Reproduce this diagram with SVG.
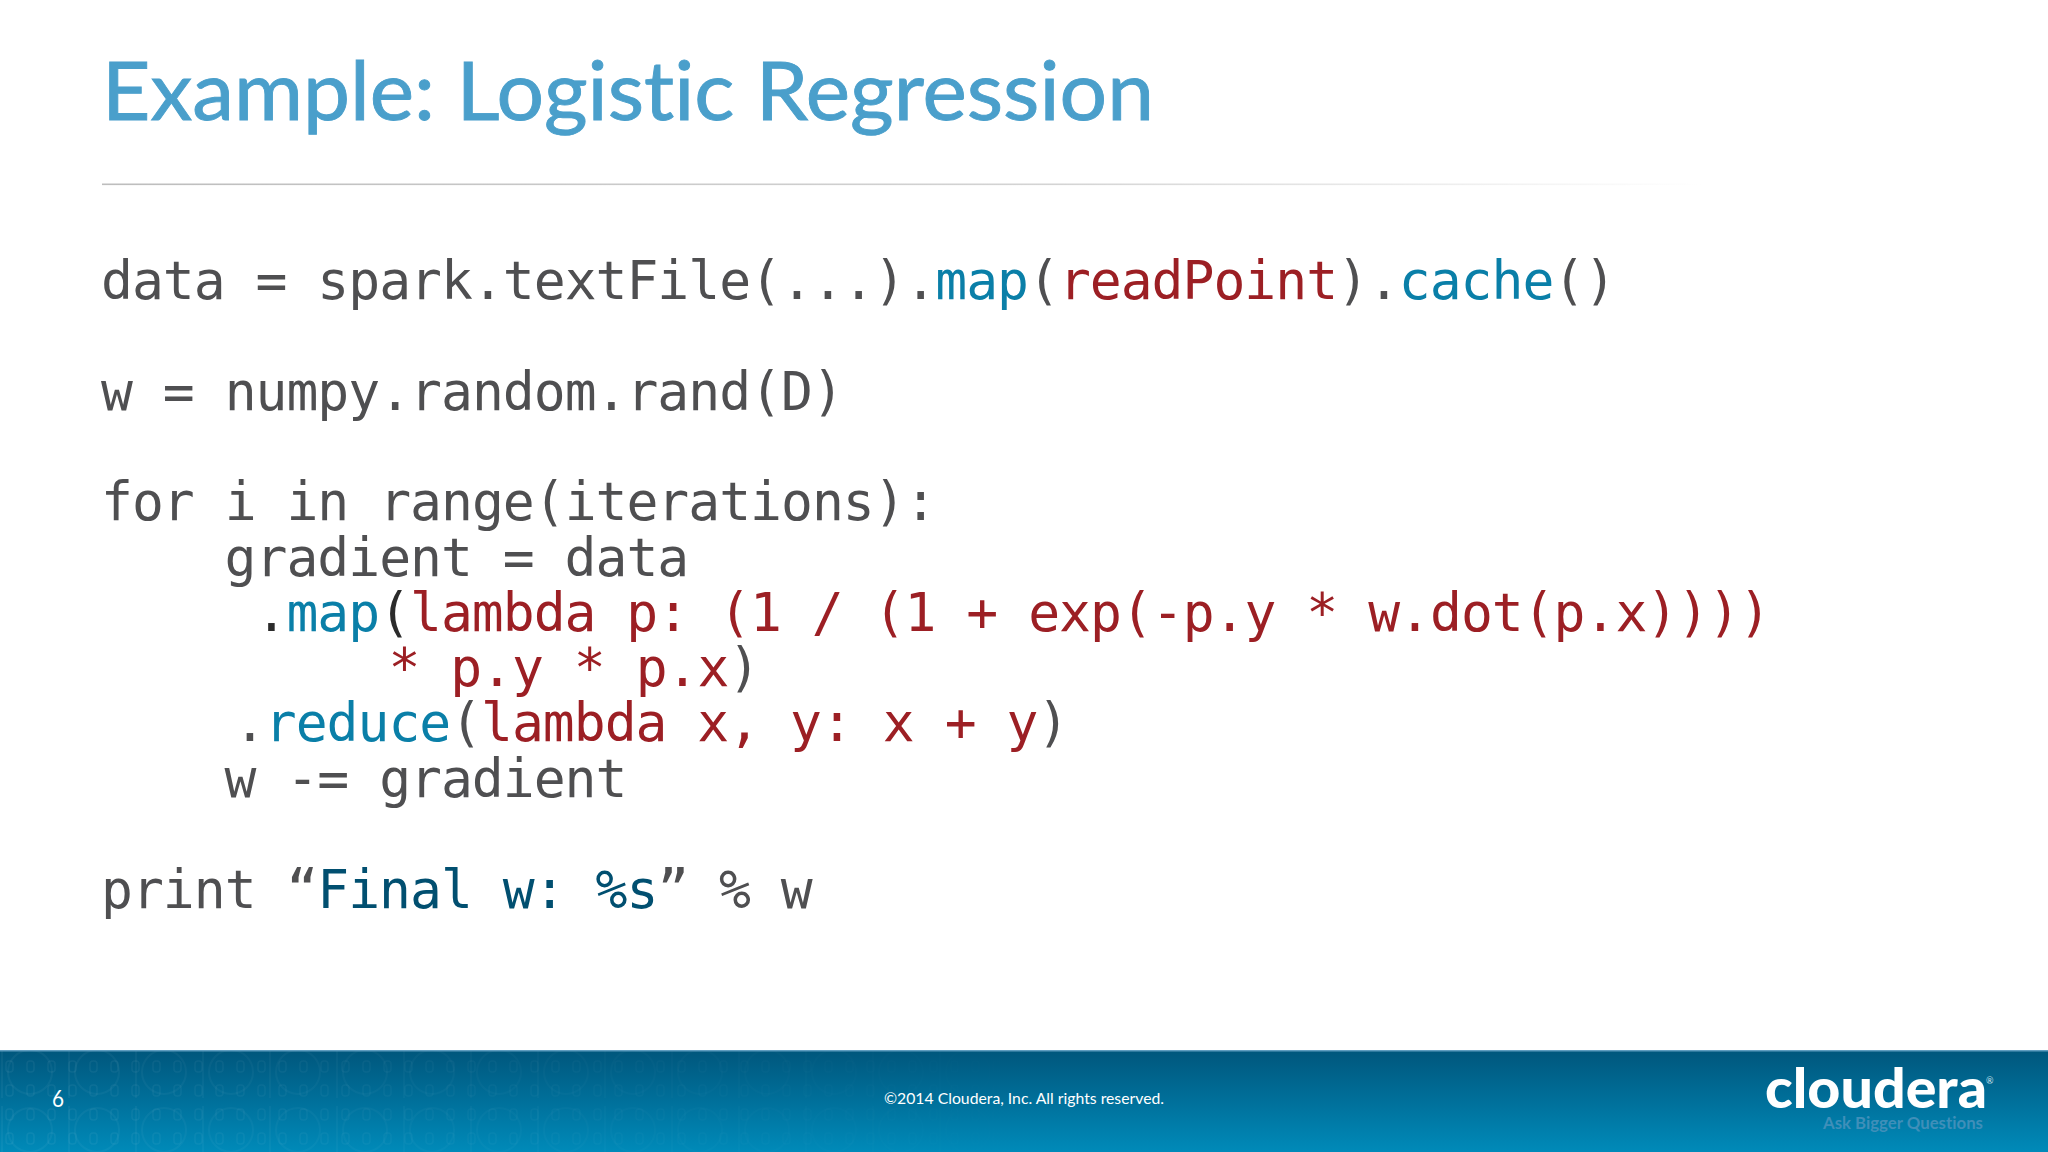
<svg xmlns="http://www.w3.org/2000/svg" width="2048" height="1152" viewBox="0 0 2048 1152">
<style>
text{white-space:pre;font-variant-ligatures:none}
.c{font-family:"DejaVu Sans Mono","Liberation Mono",monospace;font-size:53px;letter-spacing:-1px}
.g{fill:#4f4f51}.b{fill:#0a7fa8}.r{fill:#9c1f24}.d{fill:#014f70}.k{fill:#2b2b2b}
.l{font-family:Lato,"Open Sans",sans-serif}
</style>
<defs>
<linearGradient id="foot" x1="0" y1="0" x2="0" y2="1"><stop offset="0" stop-color="#00567c"/><stop offset="1" stop-color="#008ab9"/></linearGradient>
<linearGradient id="rule" x1="0" y1="0" x2="1" y2="0"><stop offset="0" stop-color="#bdbdbd"/><stop offset="0.6" stop-color="#d4d4d4"/><stop offset="1" stop-color="#ffffff"/></linearGradient>
<linearGradient id="fade" x1="0" y1="0" x2="1" y2="0"><stop offset="0" stop-color="#fff" stop-opacity="1"/><stop offset="1" stop-color="#fff" stop-opacity="0"/></linearGradient>
<pattern id="dots" width="21" height="24" patternUnits="userSpaceOnUse"><rect x="6" y="5" width="7" height="11" rx="3" fill="none" stroke="#fff" stroke-width="1.5"/></pattern>
<pattern id="dots2" width="67" height="58" patternUnits="userSpaceOnUse"><circle cx="30" cy="28" r="22" fill="none" stroke="#fff" stroke-width="2"/><path d="M2 4V54" stroke="#fff" stroke-width="2"/></pattern>
<mask id="fm"><rect x="0" y="1050" width="1100" height="102" fill="url(#fade)"/></mask>
</defs>
<rect width="2048" height="1152" fill="#fff"/>
<g id="title"><text class="l" x="102" y="120" font-size="82" fill="#4a9fcb" stroke="#4a9fcb" stroke-width="0.9" textLength="1052" lengthAdjust="spacingAndGlyphs">Example: Logistic Regression</text></g>
<rect id="divider" x="102" y="183.5" width="1600" height="1.6" fill="url(#rule)"/>
<g id="code">
<text class="c g" x="101" y="299">data = spark.textFile(...).</text><text class="c b" x="935.3" y="299">map</text><text class="c g" x="1028" y="299">(</text><text class="c r" x="1058.9" y="299">readPoint</text><text class="c g" x="1337" y="299">).</text><text class="c b" x="1398.8" y="299">cache</text><text class="c g" x="1553.3" y="299">()</text>
<text class="c g" x="101" y="410">w = numpy.random.rand(D)</text>
<text class="c g" x="101" y="520">for i in range(iterations):</text>
<text class="c g" x="224.6" y="575.5">gradient = data</text>
<text class="c k" x="255.5" y="631">.</text><text class="c b" x="286.4" y="631">map</text><text class="c k" x="379.1" y="631">(</text><text class="c r" x="410" y="631">lambda p: (1 / (1 + exp(-p.y * w.dot(p.x))))</text>
<text class="c r" x="388.4" y="686">* p.y * p.x</text><text class="c g" x="728.3" y="686">)</text>
<text class="c g" x="233.9" y="741">.</text><text class="c b" x="264.8" y="741">reduce</text><text class="c g" x="450.2" y="741">(</text><text class="c r" x="481" y="741">lambda x, y: x + y</text><text class="c g" x="1037.3" y="741">)</text>
<text class="c g" x="224.6" y="797">w -= gradient</text>
<text class="c g" x="101" y="908">print “</text><text class="c d" x="317.3" y="908">Final w: %s</text><text class="c g" x="657.2" y="908">” % w</text>
</g>
<g id="footer">
<rect x="0" y="1050" width="2048" height="102" fill="url(#foot)"/>
<rect x="0" y="1050" width="1100" height="102" fill="url(#dots)" opacity="0.05" mask="url(#fm)"/>
<rect x="0" y="1050" width="1100" height="102" fill="url(#dots2)" opacity="0.04" mask="url(#fm)"/>
<rect x="0" y="1050" width="2048" height="1.5" fill="#5f9dc0"/>
<text class="l" x="52" y="1107" font-size="23" fill="#fff" textLength="12" lengthAdjust="spacingAndGlyphs">6</text>
<text class="l" x="884" y="1104" font-size="16" fill="#fff" textLength="280" lengthAdjust="spacingAndGlyphs">©2014 Cloudera, Inc. All rights reserved.</text>
</g>
<g id="logo">
<text class="l" x="1765" y="1108" font-size="56" font-weight="900" fill="#fff" textLength="222" lengthAdjust="spacingAndGlyphs">cloudera</text>
<text class="l" x="1986" y="1084" font-size="9" fill="#cfe3ee">®</text>
<text class="l" x="1823" y="1129" font-size="17" font-weight="700" fill="#3f8fb9" textLength="160" lengthAdjust="spacingAndGlyphs">Ask Bigger Questions</text>
</g>
</svg>
